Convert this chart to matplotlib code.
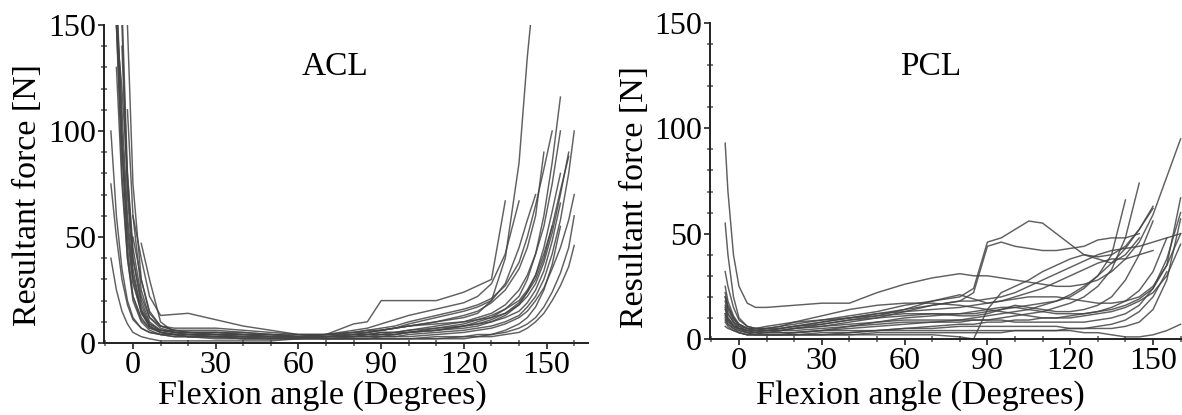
import numpy as np
import matplotlib
matplotlib.use("Agg")
import matplotlib.pyplot as plt
from matplotlib.ticker import MultipleLocator

# ---------------- data: ACL panel ----------------
ACL_ANGLE = [-8, -6, -4, -2, 0, 3, 6, 10, 15, 20, 30, 40, 50, 60, 70, 80, 85,
             90, 95, 100, 110, 120, 125, 130, 135, 140, 143, 146, 149, 152, 155, 158, 160]
N = None
ACL_01 = [N, 170, 100, 55, 30, 14, 8, 5, 4, 4, 4, 3, 3, 3, 4, 9, 10,
          20, 20, 20, 20, 24, 27, 30, 67, N, N, N, N, N, N, N, N]
ACL_02 = [N, N, 160, 80, 40, 18, 9, 6, 5, 5, 5, 4, 4, 3, 3, 4, 5,
          6, 7, 8, 10, 12, 14, 20, 40, 85, 135, 175, N, N, N, N, N]
ACL_03 = [N, N, N, N, 60, 40, 22, 13, 13.5, 14, 11, 8, 6, 4, 4, 5, 5,
          6, 7, 8, 10, 13, 15, 19, 25, 35, 45, 60, 90, N, N, N, N]
ACL_04 = [N, 150, 90, 50, 28, 15, 8, 5, 4, 3, 3, 3, 3, 3, 3, 3, 3,
          4, 4, 5, 6, 8, 10, 12, 16, 22, 30, 42, 60, 85, 116, N, N]
ACL_05 = [N, N, 140, 70, 35, 15, 8, 5, 4, 3, 3, 2, 2, 3, 3, 3, 3,
          3, 3, 4, 5, 6, 7, 8, 10, 13, 17, 22, 30, 42, 58, 80, 100]
ACL_06 = [N, 150, 80, 40, 20, 10, 6, 4, 3, 3, 3, 2, 2, 2, 3, 4, 5,
          6, 7, 9, 12, 15, 17, 20, 28, 45, 58, 70, N, N, N, N, N]
ACL_07 = [100, 60, 35, 20, 12, 7, 5, 4, 3, 3, 2, 2, 2, 2, 2, 2, 2,
          3, 3, 3, 4, 5, 6, 7, 9, 12, 15, 20, 26, 35, 45, 58, 70]
ACL_08 = [N, 130, 75, 40, 22, 12, 7, 5, 4, 4, 4, 3, 3, 3, 2, 2, 2,
          2, 2, 2, 3, 3, 4, 4, 5, 7, 9, 12, 17, 24, 33, 45, 60]
ACL_09 = [N, N, N, 110, 60, 25, 12, 7, 5, 4, 3, 3, 2, 2, 2, 2, 2,
          2, 2, 2, 2, 2, 3, 3, 4, 5, 7, 10, 14, 20, 27, 36, 46]
ACL_10 = [N, 160, 110, 60, 32, 16, 9, 6, 5, 5, 5, 4, 4, 3, 4, 5, 6,
          7, 8, 10, 13, 16, 18, 21, 27, 38, 50, 65, 82, 100, N, N, N]
ACL_11 = [N, N, 150, 75, 40, 20, 10, 6, 5, 5, 4, 4, 3, 3, 3, 3, 4,
          4, 5, 5, 7, 9, 11, 13, 16, 20, 25, 32, 42, 55, 72, 88, N]
ACL_12 = [N, N, N, N, 50, 30, 15, 8, 6, 5, 4, 4, 3, 3, 4, 6, 7,
          9, 11, 13, 16, 19, 22, 28, 42, 67, N, N, N, N, N, N, N]
ACL_13 = [N, N, N, N, N, 47, 30, 10, 5, 4, 3, 3, 3, 3, 2, 3, 3,
          3, 4, 5, 6, 7, 8, 10, 13, 18, 24, 32, 45, 62, 80, N, N]
ACL_14 = [40, 25, 15, 9, 5, 3, 2, 1, 1, 1, 1, 1, 1, 2, 2, 2, 2,
          2, 2, 2, 2, 3, 3, 4, 6, 9, 12, 17, 25, 37, 55, N, N]
ACL_15 = [N, 150, 120, 80, 45, 22, 12, 8, 7, 7, 7, 6, 5, 4, 4, 5, 6,
          6, 7, 8, 9, 10, 11, 12, 14, 18, 22, 28, 38, 52, 70, 90, N]
ACL_16 = [N, N, N, 150, 75, 30, 14, 8, 6, 5, 5, 5, 4, 3, 3, 4, 4,
          5, 5, 6, 8, 10, 12, 14, 18, 25, 32, 42, 55, 75, 100, N, N]
ACL_17 = [75, 50, 30, 18, 11, 7, 5, 4, 4, 3, 3, 3, 3, 3, 3, 3, 4,
          4, 4, 5, 6, 8, 9, 11, 14, 19, 24, 30, 40, 55, N, N, N]
ACL_18 = [N, 155, 95, 45, 22, 11, 7, 6, 6, 6, 6, 5, 4, 4, 4, 4, 4,
          5, 5, 6, 7, 8, 9, 10, 12, 15, 19, 25, 34, 48, 66, N, N]

# ---------------- data: PCL panel ----------------
PCL_ANGLE = [-5, -4, -2, 0, 3, 6, 10, 15, 20, 30, 40, 50, 60, 70, 80, 85,
             90, 95, 100, 105, 110, 115, 120, 125, 130, 135, 140, 145, 150, 155, 160]
PCL_01 = [20, 14, 9, 7, 5, 5, 5, 6, 7, 9, 11, 13, 16, 18, 20, 24,
          46, 48, 52, 56, 55, 50, 45, 40, 39, 40, 44, 52, 62, N, N]
PCL_02 = [12, 9, 6, 5, 4, 4, 4, 5, 6, 8, 10, 12, 14, 16, 18, 22,
          44, 46, 44, 43, 42, 42, 43, 44, 47, 48, 48, 50, N, N, N]
PCL_03 = [93, 70, 40, 25, 17, 15, 15, 15.5, 16, 17, 17, 22, 26, 29, 31, 30,
          30, 29, 28, 27, 26, 25, 25, 26, 28, 32, 38, 46, 59, 77, 95]
PCL_04 = [55, 40, 20, 10, 6, 5, 4, 4, 4, 5, 6, 7, 8, 8, 8, 9,
          9, 10, 11, 12, 13, 15, 17, 20, 25, 33, 48, 74, N, N, N]
PCL_05 = [32, 25, 15, 9, 6, 5, 5, 5, 6, 7, 9, 10, 11, 12, 12, 12,
          13, 14, 15, 16, 17, 18, 20, 24, 30, 40, 66, N, N, N, N]
PCL_06 = [20, 15, 10, 7, 5, 4, 3, 3, 3, 4, 5, 6, 7, 8, 9, 10,
          11, 12, 13, 14, 16, 18, 21, 25, 30, 36, 43, 52, 63, N, N]
PCL_07 = [18, 12, 8, 5, 3, 3, 2, 2, 2, 2, 3, 4, 5, 6, 7, 7,
          8, 8, 9, 9, 10, 10, 11, 12, 13, 14, 16, 19, 24, 35, 67]
PCL_08 = [15, 10, 6, 4, 3, 2, 2, 2, 2, 3, 3, 4, 5, 5, 6, 6,
          6, 6, 6, 6, 6, 6, 5, 5, 5, 5, 6, 8, 14, 28, 57]
PCL_09 = [25, 18, 11, 7, 5, 4, 4, 4, 5, 6, 8, 10, 13, 16, 18, 18,
          19, 20, 22, 25, 28, 31, 34, 37, 40, 42, 43, 44, 46, 48, 50]
PCL_10 = [10, 7, 5, 4, 3, 3, 3, 3, 3, 4, 4, 4, 4, 4, 4, 4,
          4, 4, 4, 4, 4, 4, 4, 3, 3, 2, 1, 1, 2, 4, 7]
PCL_11 = [8, 6, 4, 3, 2, 2, 2, 2, 2, 2, 2, 2, 2, 2, 1, 0,
          14, 22, 25, 28, 32, 35, 38, 40, 38, 36, 40, 48, N, N, N]
PCL_12 = [14, 10, 7, 5, 4, 4, 4, 5, 6, 8, 10, 12, 13, 14, 15, 16,
          17, 18, 19, 20, 20, 20, 19, 18, 17, 17, 18, 20, 25, 35, 50]
PCL_13 = [22, 16, 10, 6, 4, 3, 3, 4, 5, 7, 9, 11, 12, 12, 11, 11,
          12, 14, 16, 15, 14, 13, 13, 14, 16, 20, 28, 40, 56, N, N]
PCL_14 = [12, 9, 6, 5, 4, 4, 5, 6, 8, 11, 14, 16, 17, 17, 16, 15,
          14, 13, 12, 11, 10, 10, 10, 11, 12, 13, 15, 18, 22, 30, 45]
PCL_15 = [16, 12, 8, 6, 5, 5, 6, 7, 8, 9, 10, 11, 14, 18, 21, 19,
          17, 18, 20, 22, 24, 27, 30, 33, 36, 38, 38, 40, 42, N, N]
PCL_16 = [9, 7, 5, 3, 2, 2, 2, 2, 3, 4, 6, 8, 10, 11, 12, 13,
          14, 15, 15, 14, 13, 12, 12, 12, 13, 15, 18, 23, 32, 48, N]
PCL_17 = [6, 5, 4, 3, 2, 2, 2, 2, 2, 2, 2, 3, 3, 3, 3, 3,
          3, 3, 4, 4, 4, 4, 5, 5, 6, 7, 9, 13, 20, 32, N]
PCL_18 = [11, 8, 6, 5, 4, 4, 4, 4, 5, 6, 7, 8, 9, 9, 9, 9,
          9, 9, 8, 8, 8, 8, 8, 8, 9, 10, 12, 16, 24, 38, 60]

ACL_CURVES = [ACL_01, ACL_02, ACL_03, ACL_04, ACL_05, ACL_06, ACL_07, ACL_08, ACL_09,
              ACL_10, ACL_11, ACL_12, ACL_13, ACL_14, ACL_15, ACL_16, ACL_17, ACL_18]
PCL_CURVES = [PCL_01, PCL_02, PCL_03, PCL_04, PCL_05, PCL_06, PCL_07, PCL_08, PCL_09,
              PCL_10, PCL_11, PCL_12, PCL_13, PCL_14, PCL_15, PCL_16, PCL_17, PCL_18]

X_TICKS = [0, 30, 60, 90, 120, 150]
Y_TICKS = [0, 50, 100, 150]
X_LABEL = "Flexion angle (Degrees)"
Y_LABEL = "Resultant force [N]"

# ---------------- drawing ----------------
plt.rcParams['font.family'] = ['Liberation Serif', 'DejaVu Serif']
W, H = 1182, 415
fig = plt.figure(figsize=(W / 100, H / 100), dpi=100)

def px_rect(x0, x1, ytop, ybot):
    return [x0 / W, 1 - ybot / H, (x1 - x0) / W, (ybot - ytop) / H]

ax1 = fig.add_axes(px_rect(104, 588, 25, 343))
ax2 = fig.add_axes(px_rect(710, 1182, 23, 339))

def style(ax, xmax):
    ax.set_xlim(-10.5, xmax)
    ax.set_ylim(0, 150)
    for s in ['top', 'right']:
        ax.spines[s].set_visible(False)
    for s in ['left', 'bottom']:
        ax.spines[s].set_linewidth(1.4)
        ax.spines[s].set_color('#222222')
    ax.set_xticks(X_TICKS)
    ax.set_yticks(Y_TICKS)
    ax.xaxis.set_minor_locator(MultipleLocator(10))
    ax.yaxis.set_minor_locator(MultipleLocator(10))
    ax.tick_params(which='major', direction='out', length=4, width=1.3,
                   color='#333333', labelsize=23, pad=2)
    ax.tick_params(which='minor', direction='inout', length=4, width=1.1,
                   color='#555555')
    ax.set_facecolor('white')

def draw(ax, angles, curves):
    xa = np.array(angles, dtype=float)
    for c in curves:
        ya = np.array([np.nan if v is None else v for v in c], dtype=float)
        n = min(len(xa), len(ya))
        ax.plot(xa[:n], ya[:n], color='#444444', lw=1.05, alpha=0.85,
                solid_joinstyle='round')

draw(ax1, ACL_ANGLE, ACL_CURVES)
draw(ax2, PCL_ANGLE, PCL_CURVES)
style(ax1, 165)
style(ax2, 160.5)

fig.text(335 / W, 1 - 75 / H, "ACL", ha='center', va='baseline', fontsize=24)
fig.text(931 / W, 1 - 75 / H, "PCL", ha='center', va='baseline', fontsize=24)

fig.text(322 / W, 1 - 404 / H, X_LABEL, ha='center', va='baseline', fontsize=24.5)
fig.text(920 / W, 1 - 404 / H, X_LABEL, ha='center', va='baseline', fontsize=24.5)
fig.text(28 / W, 1 - 195 / H, Y_LABEL, ha='center', va='center', rotation=90, fontsize=24.5)
fig.text(635 / W, 1 - 197 / H, Y_LABEL, ha='center', va='center', rotation=90, fontsize=24.5)

fig.savefig("out.png", dpi=100, facecolor='white')
